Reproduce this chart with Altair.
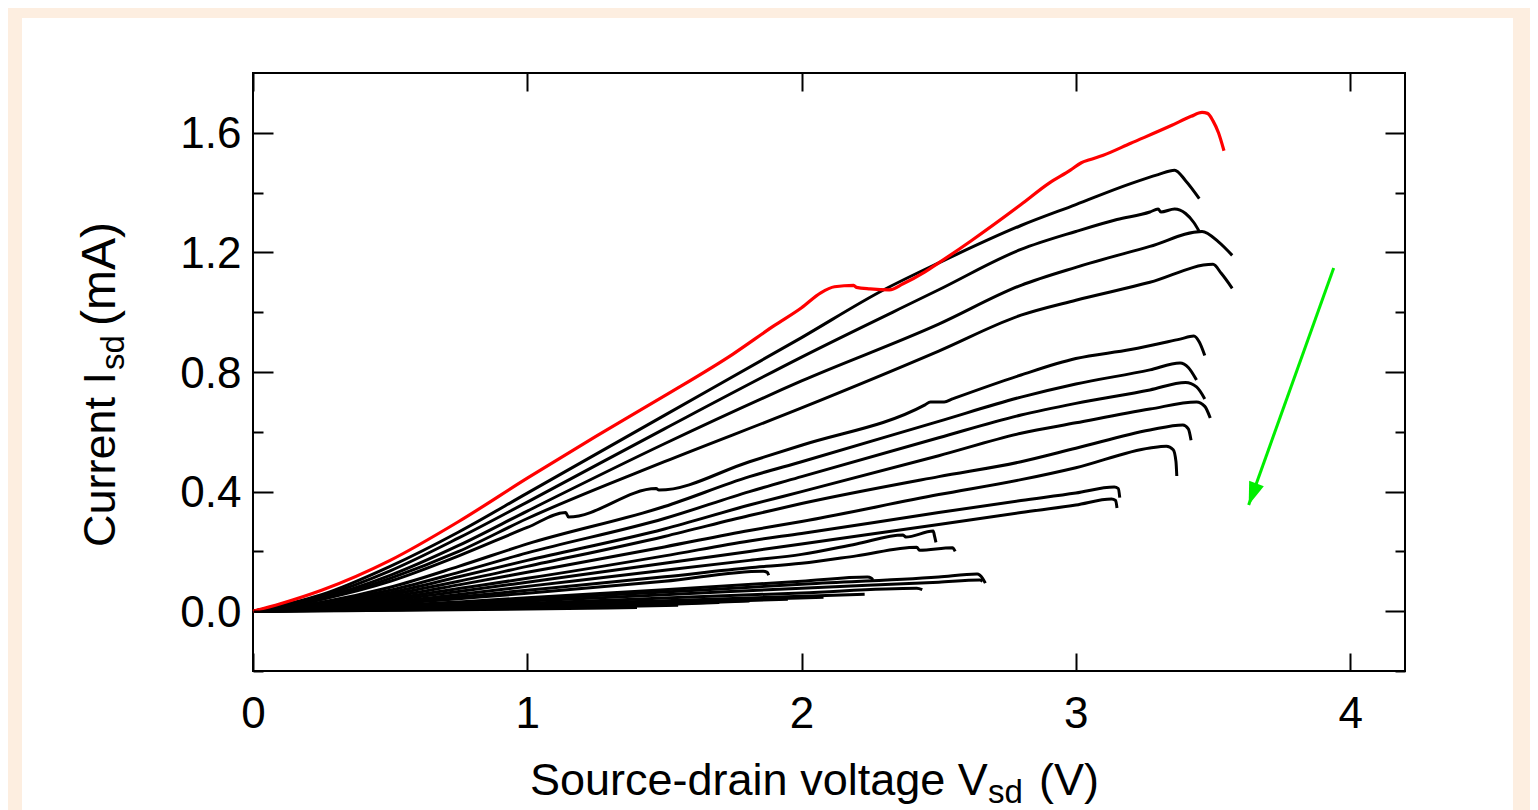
import altair as alt
import pandas as pd

FONT = "Liberation Sans"
PEACH = "#FDEEE0"
GREEN = "#00EE00"

# axes
X_DOMAIN = [0, 4.2]
Y_DOMAIN = [-0.2, 1.8]
X_TICKS = [0, 1, 2, 3, 4]
Y_MAJOR = [0.0, 0.4, 0.8, 1.2, 1.6]
Y_MINOR = [-0.2, 0.2, 0.6, 1.0, 1.4]

# red (first) sweep
RED_V = [0, 0.1, 0.25, 0.5, 0.75, 1.0, 1.25, 1.5, 1.75, 1.9, 2.0, 2.07, 2.12, 2.19, 2.2, 2.25, 2.32, 2.37, 2.45, 2.5,
         2.62, 2.8, 2.9, 2.98, 3.02, 3.05, 3.1, 3.2, 3.35, 3.42, 3.46, 3.48, 3.5, 3.52, 3.54]
RED_I = [0, 0.025, 0.07, 0.17, 0.30, 0.445, 0.585, 0.72, 0.86, 0.955, 1.015, 1.065, 1.085, 1.09, 1.083, 1.078, 1.075,
         1.095, 1.135, 1.165, 1.24, 1.36, 1.43, 1.475, 1.50, 1.51, 1.525, 1.565, 1.625, 1.655, 1.668, 1.665, 1.64, 1.60, 1.54]

# black sweeps
C01_V = [0, 0.25, 0.5, 0.75, 1.0, 1.5, 2.0, 2.3, 2.5, 2.8, 3.0, 3.2, 3.3, 3.36, 3.40, 3.45]
C01_I = [0, 0.055, 0.15, 0.265, 0.395, 0.655, 0.915, 1.075, 1.165, 1.29, 1.36, 1.43, 1.46, 1.475, 1.44, 1.38]
C02_V = [0, 0.25, 0.5, 0.75, 1.0, 1.5, 2.0, 2.5, 2.8, 3.0, 3.15, 3.27, 3.30, 3.31, 3.36, 3.40, 3.43, 3.45]
C02_I = [0, 0.05, 0.135, 0.245, 0.365, 0.61, 0.85, 1.075, 1.21, 1.27, 1.31, 1.335, 1.345, 1.335, 1.345, 1.33, 1.30, 1.27]
C03_V = [0, 0.25, 0.5, 0.75, 1.0, 1.5, 2.0, 2.5, 2.8, 3.0, 3.27, 3.46, 3.52, 3.57]
C03_I = [0, 0.045, 0.12, 0.22, 0.335, 0.56, 0.77, 0.96, 1.09, 1.15, 1.22, 1.27, 1.235, 1.19]
C04_V = [0, 0.25, 0.5, 0.75, 1.0, 1.5, 2.0, 2.5, 2.8, 3.0, 3.27, 3.5, 3.53, 3.57]
C04_I = [0, 0.04, 0.11, 0.2, 0.31, 0.5, 0.68, 0.87, 0.99, 1.04, 1.10, 1.16, 1.13, 1.08]
C05_V = [0, 0.25, 0.5, 0.75, 1.0, 1.14, 1.15, 1.47, 1.48, 1.81, 2.0, 2.45, 2.47, 2.52, 2.55, 2.8, 3.0, 3.2, 3.38, 3.43, 3.45, 3.47]
C05_I = [0, 0.04, 0.1, 0.185, 0.28, 0.33, 0.315, 0.41, 0.405, 0.50, 0.555, 0.69, 0.70, 0.70, 0.71, 0.79, 0.845, 0.875, 0.91, 0.92, 0.90, 0.855]
C06_V = [0, 0.25, 0.5, 0.75, 1.0, 1.5, 1.81, 2.0, 2.5, 2.8, 3.0, 3.27, 3.38, 3.41, 3.44]
C06_I = [0, 0.03, 0.08, 0.15, 0.225, 0.35, 0.45, 0.50, 0.635, 0.716, 0.76, 0.807, 0.83, 0.815, 0.773]
C07_V = [0, 0.25, 0.5, 0.75, 1.0, 1.5, 1.81, 2.0, 2.5, 2.8, 3.0, 3.27, 3.40, 3.44, 3.47]
C07_I = [0, 0.027, 0.07, 0.13, 0.195, 0.31, 0.40, 0.45, 0.58, 0.656, 0.695, 0.74, 0.765, 0.75, 0.71]
C08_V = [0, 0.25, 0.5, 0.75, 1.0, 1.5, 1.81, 2.0, 2.5, 2.8, 3.0, 3.27, 3.44, 3.47, 3.49]
C08_I = [0, 0.024, 0.062, 0.115, 0.17, 0.275, 0.355, 0.40, 0.52, 0.595, 0.63, 0.676, 0.70, 0.685, 0.646]
C09_V = [0, 0.25, 0.5, 0.75, 1.0, 1.5, 1.81, 2.0, 2.5, 2.8, 3.0, 3.27, 3.39, 3.41, 3.42]
C09_I = [0, 0.02, 0.055, 0.10, 0.15, 0.25, 0.32, 0.36, 0.45, 0.50, 0.545, 0.606, 0.623, 0.61, 0.572]
C10_V = [0, 0.25, 0.5, 0.75, 1.0, 1.5, 1.81, 2.0, 2.5, 2.8, 3.0, 3.27, 3.33, 3.355, 3.365, 3.368]
C10_I = [0, 0.018, 0.048, 0.088, 0.13, 0.215, 0.27, 0.30, 0.39, 0.44, 0.48, 0.546, 0.552, 0.54, 0.50, 0.452]
C11_V = [0, 0.25, 0.5, 0.75, 1.0, 1.5, 1.81, 2.0, 2.5, 2.8, 3.0, 3.14, 3.155, 3.16]
C11_I = [0, 0.016, 0.042, 0.076, 0.11, 0.185, 0.235, 0.26, 0.33, 0.37, 0.395, 0.415, 0.41, 0.38]
C12_V = [0, 0.25, 0.5, 0.75, 1.0, 1.5, 1.81, 2.0, 2.5, 2.8, 3.0, 3.13, 3.145, 3.15]
C12_I = [0, 0.014, 0.036, 0.066, 0.097, 0.16, 0.20, 0.225, 0.29, 0.33, 0.355, 0.375, 0.37, 0.345]
C13_V = [0, 0.25, 0.5, 0.75, 1.0, 1.5, 1.81, 2.0, 2.2, 2.37, 2.38, 2.48, 2.485, 2.49]
C13_I = [0, 0.012, 0.03, 0.056, 0.083, 0.137, 0.17, 0.19, 0.225, 0.255, 0.248, 0.268, 0.25, 0.23]
C14_V = [0, 0.25, 0.5, 0.75, 1.0, 1.5, 1.81, 2.0, 2.2, 2.42, 2.43, 2.55, 2.56]
C14_I = [0, 0.01, 0.026, 0.048, 0.07, 0.115, 0.145, 0.16, 0.185, 0.214, 0.204, 0.212, 0.20]
C15_V = [0, 0.25, 0.5, 0.75, 1.0, 1.5, 1.86, 1.875, 1.88]
C15_I = [0, 0.01, 0.024, 0.042, 0.06, 0.10, 0.134, 0.13, 0.12]
C16_V = [0, 0.25, 0.5, 0.75, 1.0, 1.5, 2.0, 2.24, 2.255, 2.26]
C16_I = [0, 0.008, 0.018, 0.031, 0.045, 0.072, 0.10, 0.114, 0.11, 0.104]
C17_V = [0, 0.25, 0.5, 0.75, 1.0, 1.5, 2.0, 2.5, 2.64, 2.66, 2.67]
C17_I = [0, 0.007, 0.016, 0.027, 0.04, 0.064, 0.09, 0.114, 0.124, 0.11, 0.094]
C18_V = [0, 0.25, 0.5, 0.75, 1.0, 1.5, 2.0, 2.5, 2.65, 2.66]
C18_I = [0, 0.006, 0.014, 0.023, 0.034, 0.055, 0.077, 0.097, 0.104, 0.10]
C19_V = [0, 0.5, 1.0, 1.5, 2.0, 2.42, 2.44]
C19_I = [0, 0.012, 0.027, 0.044, 0.061, 0.077, 0.072]
C20_V = [0, 0.5, 1.0, 1.5, 2.0, 2.23]
C20_I = [0, 0.01, 0.022, 0.035, 0.05, 0.057]
C21_V = [0, 0.5, 1.0, 1.5, 2.08]
C21_I = [0, 0.008, 0.019, 0.031, 0.047]
C22_V = [0, 0.5, 1.0, 1.5, 1.95]
C22_I = [0, 0.007, 0.016, 0.027, 0.04]
C23_V = [0, 0.5, 1.0, 1.5, 1.81]
C23_I = [0, 0.006, 0.014, 0.024, 0.034]
C24_V = [0, 0.5, 1.0, 1.5, 1.70]
C24_I = [0, 0.005, 0.012, 0.022, 0.029]
C25_V = [0, 0.5, 1.0, 1.55]
C25_I = [0, 0.004, 0.010, 0.02]
C26_V = [0, 0.5, 1.0, 1.4]
C26_I = [0, 0.003, 0.007, 0.012]

BLACK_CURVES = [
    ("c01", C01_V, C01_I), ("c02", C02_V, C02_I), ("c03", C03_V, C03_I), ("c04", C04_V, C04_I),
    ("c05", C05_V, C05_I), ("c06", C06_V, C06_I), ("c07", C07_V, C07_I), ("c08", C08_V, C08_I),
    ("c09", C09_V, C09_I), ("c10", C10_V, C10_I), ("c11", C11_V, C11_I), ("c12", C12_V, C12_I),
    ("c13", C13_V, C13_I), ("c14", C14_V, C14_I), ("c15", C15_V, C15_I), ("c16", C16_V, C16_I),
    ("c17", C17_V, C17_I), ("c18", C18_V, C18_I), ("c19", C19_V, C19_I), ("c20", C20_V, C20_I),
    ("c21", C21_V, C21_I), ("c22", C22_V, C22_I), ("c23", C23_V, C23_I), ("c24", C24_V, C24_I),
    ("c25", C25_V, C25_I), ("c26", C26_V, C26_I),
]

# green arrow (start, tip)
ARROW_V = [3.94, 3.63]
ARROW_I = [1.148, 0.355]

rows = []
for name, vs, cs in BLACK_CURVES:
    for k, (v, c) in enumerate(zip(vs, cs)):
        rows.append({"curve": name, "k": k, "V": v, "I": c})
black_df = pd.DataFrame(rows)
red_df = pd.DataFrame({"V": RED_V, "I": RED_I, "k": list(range(len(RED_V)))})
arrow_df = pd.DataFrame({"V": ARROW_V, "I": ARROW_I, "k": [0, 1]})
head_df = arrow_df.iloc[[1]].reset_index(drop=True)
one = pd.DataFrame({"d": [0]})

xs = alt.Scale(domain=X_DOMAIN, nice=False, zero=False)
ys = alt.Scale(domain=Y_DOMAIN, nice=False, zero=False)


def axis(orient, values, **kw):
    base = dict(orient=orient, values=values, grid=False, zindex=1, title=None,
                domain=False, labels=False, ticks=False, tickSize=0,
                labelFlush=False, labelOverlap=False)
    base.update(kw)
    return alt.Axis(**base)


def tick_axis(orient, values, size):
    return axis(orient, values, ticks=True, tickSize=size, tickWidth=2,
                tickColor="black", offset=-size)


panel = alt.Chart(one).mark_rect(color="white").encode(
    x=alt.value(-231), x2=alt.value(1260), y=alt.value(-55), y2=alt.value(780))

frame = alt.Chart(one).mark_rect(fillOpacity=0, stroke="black", strokeWidth=2).encode(
    x=alt.value(0), x2=alt.value("width"), y=alt.value(0), y2=alt.value("height"))

label_style = dict(labels=True, labelFont=FONT, labelFontSize=44, labelColor="black")

blacks = alt.Chart(black_df).mark_line(
    color="black", strokeWidth=3, strokeJoin="round", interpolate="monotone"
).encode(
    x=alt.X("V:Q", scale=xs, axis=axis("bottom", X_TICKS, format=".0f", labelPadding=21, **label_style)),
    y=alt.Y("I:Q", scale=ys, axis=axis("left", Y_MAJOR, format=".1f", labelPadding=12, labelOffset=2, **label_style)),
    detail="curve:N",
    order="k:Q",
)

red = alt.Chart(red_df).mark_line(
    color="#FF0000", strokeWidth=3.2, strokeJoin="round", interpolate="monotone"
).encode(
    x=alt.X("V:Q", scale=xs, axis=tick_axis("bottom", X_TICKS, 18)),
    y=alt.Y("I:Q", scale=ys, axis=tick_axis("left", Y_MAJOR, 20)),
    order="k:Q",
)

arrow = alt.Chart(arrow_df).mark_line(color=GREEN, strokeWidth=3).encode(
    x=alt.X("V:Q", scale=xs, axis=tick_axis("top", X_TICKS, 18)),
    y=alt.Y("I:Q", scale=ys, axis=tick_axis("left", Y_MINOR, 10)),
    order="k:Q",
)

head = alt.Chart(head_df).mark_point(
    shape="M0,0L-0.34,-1L0.34,-1Z", filled=True, color=GREEN, size=2100, angle=20, opacity=1
).encode(
    x=alt.X("V:Q", scale=xs, axis=None),
    y=alt.Y("I:Q", scale=ys, axis=tick_axis("right", Y_MAJOR, 20)),
)

minor_right = alt.Chart(arrow_df).mark_point(opacity=0).encode(
    x=alt.X("V:Q", scale=xs, axis=None),
    y=alt.Y("I:Q", scale=ys, axis=tick_axis("right", Y_MINOR, 10)),
)


def title_text(s, x, y, size, angle=0):
    return alt.Chart(pd.DataFrame({"t": [s]})).mark_text(
        font=FONT, fontSize=size, align="left", baseline="alphabetic", color="black", angle=angle
    ).encode(x=alt.value(x), y=alt.value(y), text="t:N")


titles = [
    title_text("Source-drain voltage V", 277, 722, 45),
    title_text("sd", 735, 730, 33),
    title_text("(V)", 786, 722, 45),
    title_text("Current I", -138, 474, 45, 270),
    title_text("sd", -129, 297, 33, 270),
    title_text("(mA)", -138, 253, 48, 270),
]

chart = alt.layer(panel, frame, blacks, red, arrow, head, minor_right, *titles).resolve_axis(
    x="independent", y="independent"
).properties(
    width=1152, height=598,
    autosize=alt.AutoSizeParams(type="none"),
    padding={"left": 245, "top": 65, "right": 125, "bottom": 139},
).configure(background=PEACH).configure_view(stroke="transparent")

chart.save("out.html", embed_options={"renderer": "svg", "actions": False})
